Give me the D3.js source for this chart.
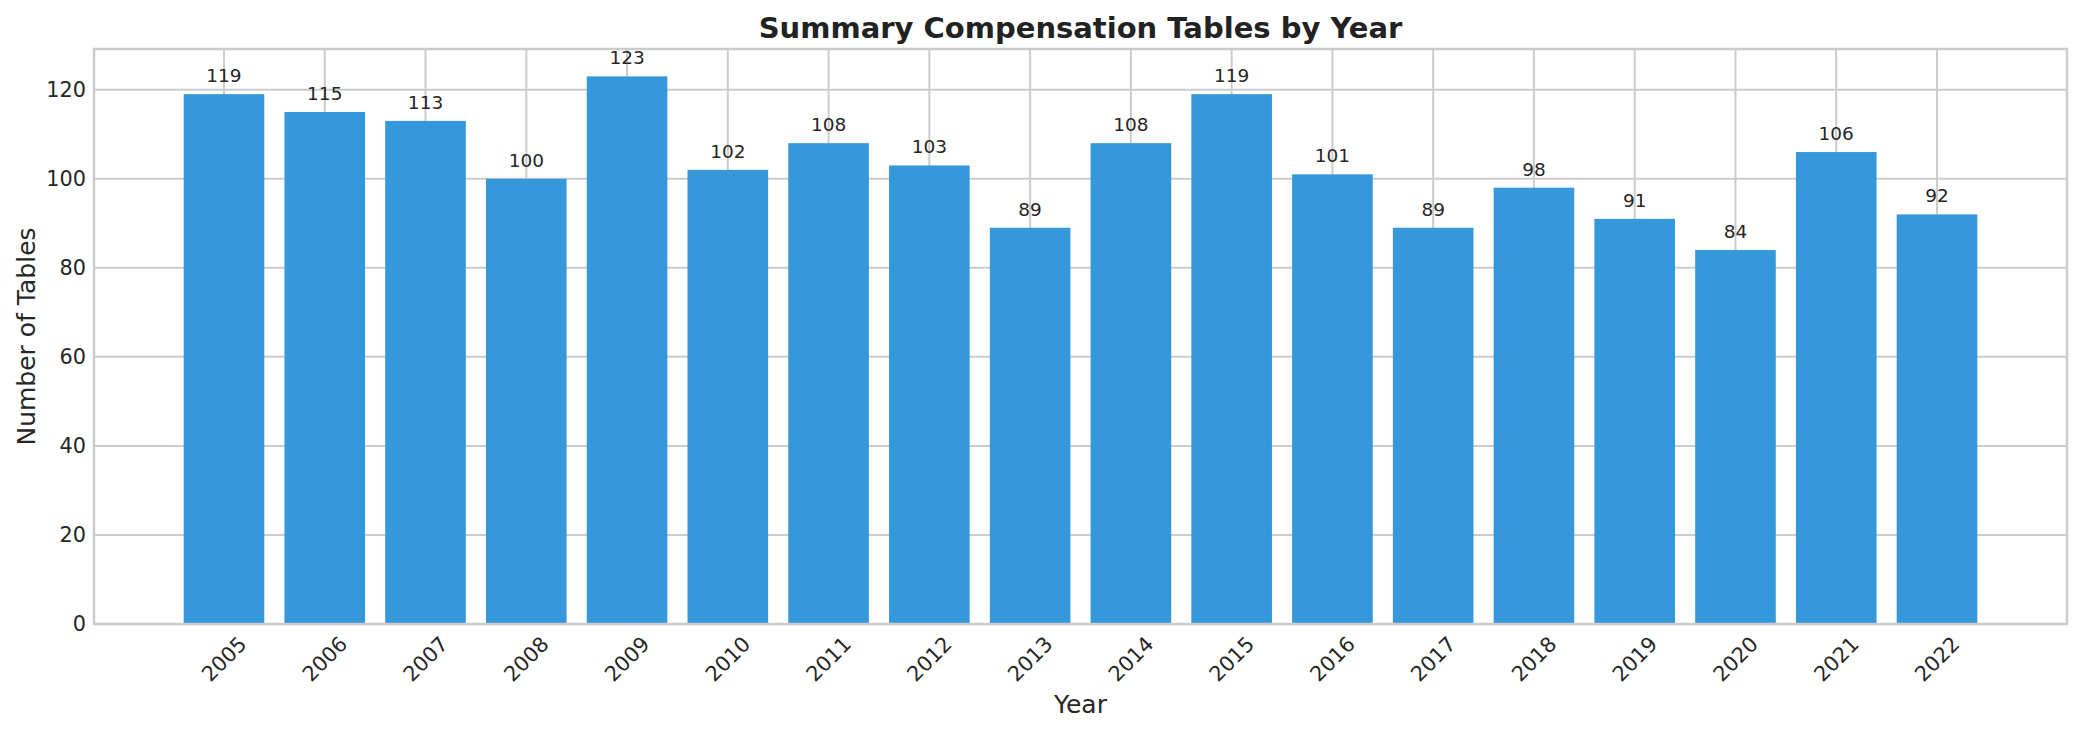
<!DOCTYPE html>
<html>
<head>
<meta charset="utf-8">
<script src="https://cdn.jsdelivr.net/npm/d3@7"></script>
<style>
  body { margin: 0; background: #fff; }
  text { font-family: "DejaVu Sans", sans-serif; fill: #262626; }
</style>
</head>
<body>
<div id="viz"></div>
<script>
var years = ["2005", "2006", "2007", "2008", "2009", "2010", "2011", "2012", "2013",
             "2014", "2015", "2016", "2017", "2018", "2019", "2020", "2021", "2022"];
var tableCounts = [119, 115, 113, 100, 123, 102, 108, 103, 89, 108, 119, 101, 89, 98, 91, 84, 106, 92];
var yTicks = [0, 20, 40, 60, 80, 100, 120];

var width = 2082,
    height = 730,
    plotLeft = 94, plotRight = 2067, plotTop = 49, plotBottom = 624;

var svg = d3.select("#viz")
  .append("svg")
    .attr("width", width)
    .attr("height", height);

// matplotlib-like limits: 5% margins around the bars
var x = d3.scaleLinear()
  .domain([-1.29, years.length - 1 + 1.29])
  .range([plotLeft, plotRight]);
var y = d3.scaleLinear()
  .domain([0, d3.max(tableCounts) * 1.05])
  .range([plotBottom, plotTop]);
var barW = x(0.8) - x(0);

// grid
svg.append("g")
  .selectAll("line")
  .data(yTicks)
  .enter()
  .append("line")
    .attr("x1", plotLeft).attr("x2", plotRight)
    .attr("y1", function(d) { return y(d); })
    .attr("y2", function(d) { return y(d); })
    .attr("stroke", "#cccccc")
    .attr("stroke-width", 2);

svg.append("g")
  .selectAll("line")
  .data(years)
  .enter()
  .append("line")
    .attr("x1", function(d, i) { return x(i); })
    .attr("x2", function(d, i) { return x(i); })
    .attr("y1", plotTop).attr("y2", plotBottom)
    .attr("stroke", "#cccccc")
    .attr("stroke-width", 2);

// bars
svg.append("g")
  .selectAll("rect")
  .data(tableCounts)
  .enter()
  .append("rect")
    .attr("x", function(d, i) { return x(i) - barW / 2; })
    .attr("y", function(d) { return y(d); })
    .attr("width", barW)
    .attr("height", function(d) { return y(0) - y(d); })
    .attr("fill", "#3498db");

// value labels
svg.append("g")
  .selectAll("text")
  .data(tableCounts)
  .enter()
  .append("text")
    .attr("x", function(d, i) { return x(i); })
    .attr("y", function(d) { return y(d) - 12; })
    .attr("text-anchor", "middle")
    .style("font-size", "18.5px")
    .text(function(d) { return d; });

// frame
svg.append("rect")
  .attr("x", plotLeft).attr("y", plotTop)
  .attr("width", plotRight - plotLeft).attr("height", plotBottom - plotTop)
  .attr("fill", "none")
  .attr("stroke", "#cccccc")
  .attr("stroke-width", 2.5);

// y tick labels
svg.append("g")
  .selectAll("text")
  .data(yTicks)
  .enter()
  .append("text")
    .attr("x", plotLeft - 8)
    .attr("y", function(d) { return y(d); })
    .attr("dy", "0.35em")
    .attr("text-anchor", "end")
    .style("font-size", "20.8px")
    .text(function(d) { return d; });

// x tick labels, rotated
svg.append("g")
  .selectAll("text")
  .data(years)
  .enter()
  .append("text")
    .attr("transform", function(d, i) {
      return "translate(" + x(i) + "," + (plotBottom + 35) + ") rotate(-45)";
    })
    .attr("text-anchor", "middle")
    .attr("dy", "0.35em")
    .style("font-size", "20.8px")
    .text(function(d) { return d; });

// axis titles
svg.append("text")
  .attr("x", (plotLeft + plotRight) / 2)
  .attr("y", 713)
  .attr("text-anchor", "middle")
  .style("font-size", "25px")
  .text("Year");

svg.append("text")
  .attr("transform", "translate(35," + (plotTop + plotBottom) / 2 + ") rotate(-90)")
  .attr("text-anchor", "middle")
  .style("font-size", "25px")
  .text("Number of Tables");

svg.append("text")
  .attr("x", (plotLeft + plotRight) / 2)
  .attr("y", 38)
  .attr("text-anchor", "middle")
  .style("font-size", "29px")
  .style("font-weight", "bold")
  .style("fill", "#222")
  .text("Summary Compensation Tables by Year");
</script>
</body>
</html>
